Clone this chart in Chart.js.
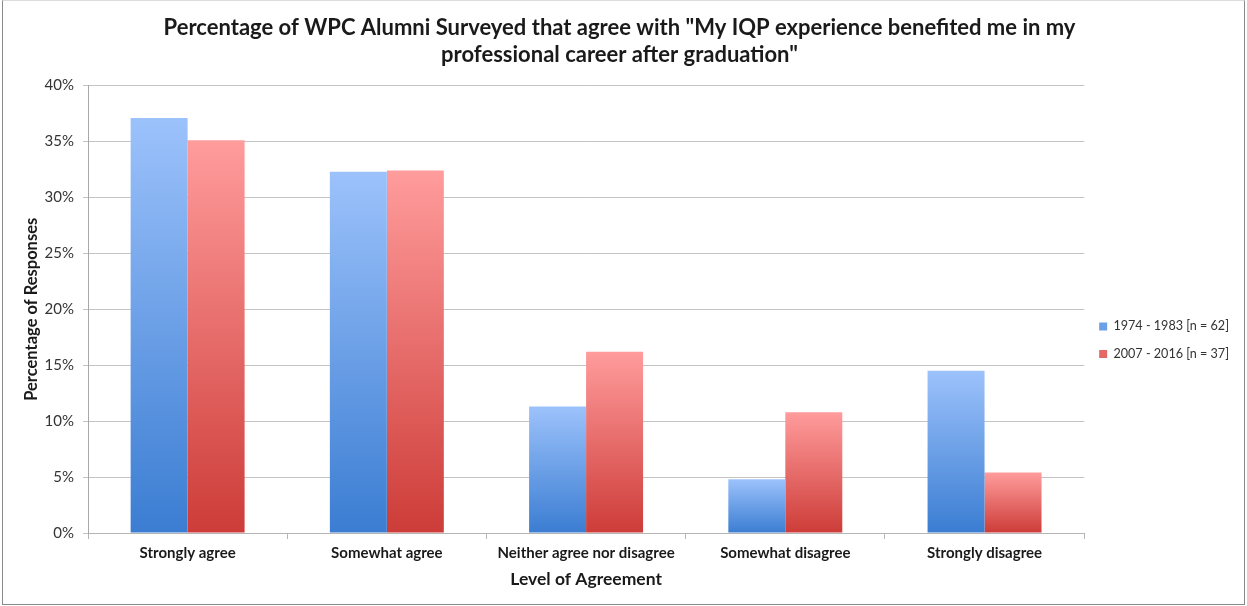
<!DOCTYPE html>
<html>
<head>
<meta charset="utf-8">
<script src="https://cdn.jsdelivr.net/npm/chart.js@4/dist/chart.umd.min.js"></script>
<style>
  html, body { margin: 0; padding: 0; background: #fff; }
  #wrap { position: relative; width: 1247px; height: 606px; }
  #frame {
    position: absolute; left: 2px; top: 0; width: 1243px; height: 605px;
    box-sizing: border-box; pointer-events: none;
    border: 1px solid #8a8a8a; border-top-color: #dcdcdc;
  }
</style>
</head>
<body>
<div id="wrap">
  <canvas id="chartAgree" width="1247" height="606"></canvas>
  <div id="frame"></div>
</div>
<script>
  const categories = ['Strongly agree', 'Somewhat agree', 'Neither agree nor disagree', 'Somewhat disagree', 'Strongly disagree'];
  const seriesNames = ['1974 - 1983 [n = 62]', '2007 - 2016 [n = 37]'];
  const early = [37.1, 32.3, 11.3, 4.8, 14.5];   // % of 62 respondents
  const recent = [35.1, 32.4, 16.2, 10.8, 5.4];  // % of 37 respondents
  const yTicks = [0, 5, 10, 15, 20, 25, 30, 35, 40];

  const FONT = 'Lato, "Open Sans", sans-serif';
  const TEXT = '#1a1a1a';

  // vertical gradient per bar, light at the top, dark at the baseline
  function barFill(light, dark, legendColor) {
    return (ctx) => {
      const chart = ctx.chart;
      if (ctx.type !== 'data' || !chart.chartArea) return legendColor;
      const y = chart.scales.y;
      const top = y.getPixelForValue(ctx.raw);
      const base = y.getPixelForValue(0);
      if (!isFinite(top) || !isFinite(base) || top === base) return legendColor;
      const g = chart.ctx.createLinearGradient(0, top, 0, base);
      g.addColorStop(0, light);
      g.addColorStop(1, dark);
      return g;
    };
  }

  new Chart(document.getElementById('chartAgree'), {
    type: 'bar',
    data: {
      labels: categories,
      datasets: [
        { label: seriesNames[0], data: early, backgroundColor: barFill('#9cc2fb', '#3b7dd2', '#5b93e2'),
          barPercentage: 1, categoryPercentage: 0.572 },
        { label: seriesNames[1], data: recent, backgroundColor: barFill('#ff9c9c', '#cd3c38', '#e06262'),
          barPercentage: 1, categoryPercentage: 0.572 },
      ]
    },
    options: {
      responsive: false,
      animation: false,
      layout: { padding: { left: 0, right: 8, top: 0, bottom: 0 } },
      plugins: {
        title: {
          display: true,
          text: ['Percentage of WPC Alumni Surveyed that agree with "My IQP experience benefited me in my',
                 'professional career after graduation"'],
          color: TEXT,
          font: { family: FONT, size: 22, weight: 'bold', lineHeight: 1.24 },
          padding: { top: 14, bottom: 17 }
        },
        legend: {
          position: 'right',
          align: 'center',
          title: { display: true, text: '', padding: 30, font: { size: 12 } },
          labels: {
            color: '#333',
            font: { family: FONT, size: 12.6 },
            boxWidth: 8, boxHeight: 8, padding: 15
          }
        },
        tooltip: { enabled: false }
      },
      scales: {
        x: {
          grid: { display: true, offset: true, drawOnChartArea: false, drawTicks: true, tickLength: 6, color: '#b5b5b5' },
          border: { display: true, color: '#b5b5b5' },
          ticks: { color: TEXT, font: { family: FONT, size: 15, weight: 'bold' }, padding: 5, maxRotation: 0, autoSkip: false },
          title: { display: true, text: 'Level of Agreement', color: TEXT,
                   font: { family: FONT, size: 17.5, weight: 'bold' }, padding: { top: 4, bottom: 16 } },
          afterFit: (s) => { s.height = 73; }
        },
        y: {
          min: 0, max: 40,
          afterBuildTicks: (s) => { s.ticks = yTicks.map(v => ({ value: v })); },
          grid: { color: '#c4c4c4', tickLength: 5, drawTicks: true },
          border: { display: true, color: '#a8a8a8' },
          ticks: { color: '#333', font: { family: FONT, size: 15 }, padding: 9, callback: (v) => v + '%' },
          title: { display: true, text: 'Percentage of Responses', color: TEXT,
                   font: { family: FONT, size: 16.5, weight: 'bold' }, padding: { top: 22, bottom: 0 } },
          afterFit: (s) => { s.width = 88; }
        }
      }
    }
  });
</script>
</body>
</html>
